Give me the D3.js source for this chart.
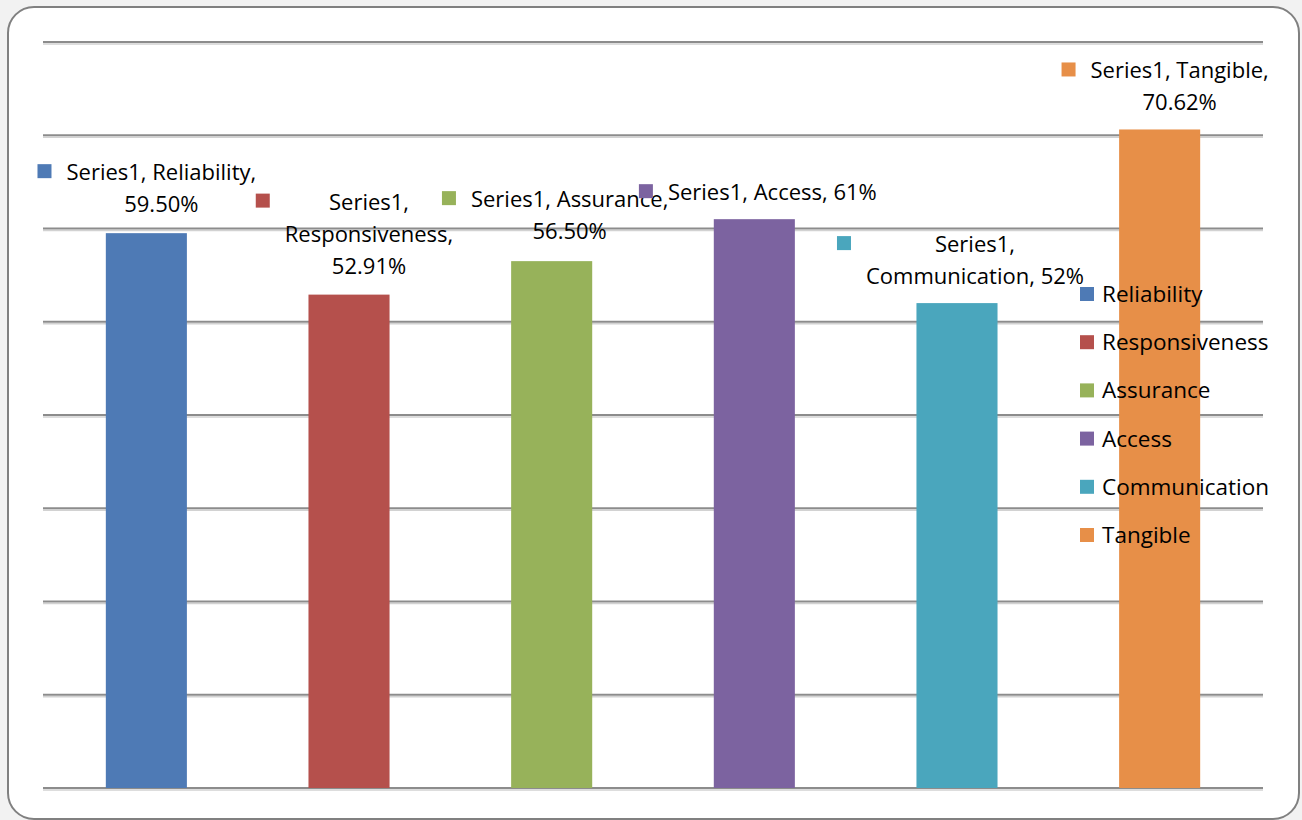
<!DOCTYPE html>
<html>
<head>
<meta charset="utf-8">
<script src="https://cdn.jsdelivr.net/npm/d3@7"></script>
<style>
  html, body { margin: 0; padding: 0; background: #f2f2f2; }
  #chart { width: 1302px; height: 820px; }
  text { font-family: "Open Sans", "Noto Sans", sans-serif; fill: #000; }
</style>
</head>
<body>
<div id="chart"></div>
<script>
// chart data
var seriesName = "Series1";
var categories = ["Reliability", "Responsiveness", "Assurance", "Access", "Communication", "Tangible"];
var values = [59.50, 52.91, 56.50, 61, 52, 70.62];
var valueLabels = ["59.50%", "52.91%", "56.50%", "61%", "52%", "70.62%"];
var gridTicks = [0, 10, 20, 30, 40, 50, 60, 70, 80];
var colors = ["#4e7ab5", "#b5504c", "#97b25a", "#7c63a0", "#4aa6bd", "#e78f48"];

// how the parts "Series1", category, value get wrapped on lines
var lineSplits = [[2, 1], [1, 1, 1], [2, 1], [3], [1, 2], [2, 1]];
// label position relative to bar top centre (first baseline)
var labelOffsets = [
  {dx: 15, dy: -53}, {dx: 20, dy: -85}, {dx: 18, dy: -54},
  {dx: 18, dy: -19}, {dx: 18, dy: -51}, {dx: 20, dy: -51}
];

var svgWidth = 1302;
var svgHeight = 820;
var plot = {left: 43, right: 1263, top: 42, bottom: 788};

var svg = d3.select("#chart")
  .append("svg")
  .attr("width", svgWidth)
  .attr("height", svgHeight);

// frame
svg.append("rect")
  .attr("x", 8).attr("y", 7)
  .attr("width", 1291).attr("height", 812)
  .attr("rx", 26).attr("ry", 26)
  .attr("fill", "#fff")
  .attr("stroke", "#808080")
  .attr("stroke-width", 2);

var x = d3.scaleBand()
  .domain(categories)
  .range([plot.left, plot.right])
  .paddingInner(0.6)
  .paddingOuter(0.31);

var y = d3.scaleLinear()
  .domain([0, 80])
  .range([plot.bottom, plot.top]);

// gridlines with a soft shadow
var grid = svg.append("g");
grid.selectAll("line.shadow")
  .data(gridTicks)
  .enter()
  .append("line")
  .attr("class", "shadow")
  .attr("x1", plot.left).attr("x2", plot.right)
  .attr("y1", d => y(d) + 2).attr("y2", d => y(d) + 2)
  .attr("stroke", "#d2d2d2")
  .attr("stroke-width", 1.5);
grid.selectAll("line.main")
  .data(gridTicks)
  .enter()
  .append("line")
  .attr("class", "main")
  .attr("x1", plot.left).attr("x2", plot.right)
  .attr("y1", d => y(d)).attr("y2", d => y(d))
  .attr("stroke", "#8c8c8c")
  .attr("stroke-width", 2);

// bars
svg.selectAll("rect.bar")
  .data(categories)
  .enter()
  .append("rect")
  .attr("class", "bar")
  .attr("x", d => x(d))
  .attr("y", (d, i) => y(values[i]))
  .attr("width", x.bandwidth())
  .attr("height", (d, i) => y(0) - y(values[i]))
  .attr("fill", (d, i) => colors[i]);

// data labels with legend key
categories.forEach(function(cat, i) {
  var parts = [seriesName, cat, valueLabels[i]];
  var lines = [];
  var k = 0;
  lineSplits[i].forEach(function(n) {
    var seg = parts.slice(k, k + n).join(", ");
    k += n;
    if (k < parts.length) seg += ",";
    lines.push(seg);
  });

  var cx = x(cat) + x.bandwidth() / 2 + labelOffsets[i].dx;
  var by = y(values[i]) + labelOffsets[i].dy;

  var g = svg.append("g");
  var maxW = 0;
  lines.forEach(function(line, j) {
    var t = g.append("text")
      .attr("x", cx)
      .attr("y", by + j * 32)
      .attr("text-anchor", "middle")
      .style("font-size", "22px")
      .text(line);
    maxW = Math.max(maxW, t.node().getComputedTextLength());
  });

  g.append("rect")
    .attr("x", cx - maxW / 2 - 15 - 14)
    .attr("y", by - 9 - 7)
    .attr("width", 14)
    .attr("height", 14)
    .attr("fill", colors[i]);
});

// legend
var legend = svg.append("g")
  .attr("transform", "translate(1080, 294)");

var rows = legend.selectAll("g")
  .data(categories)
  .enter()
  .append("g")
  .attr("transform", (d, i) => `translate(0, ${i * 48.2})`);

rows.append("rect")
  .attr("x", 0).attr("y", -7)
  .attr("width", 14).attr("height", 14)
  .attr("fill", (d, i) => colors[i]);

rows.append("text")
  .attr("x", 22)
  .attr("y", 8)
  .style("font-size", "22.5px")
  .text(d => d);
</script>
</body>
</html>
